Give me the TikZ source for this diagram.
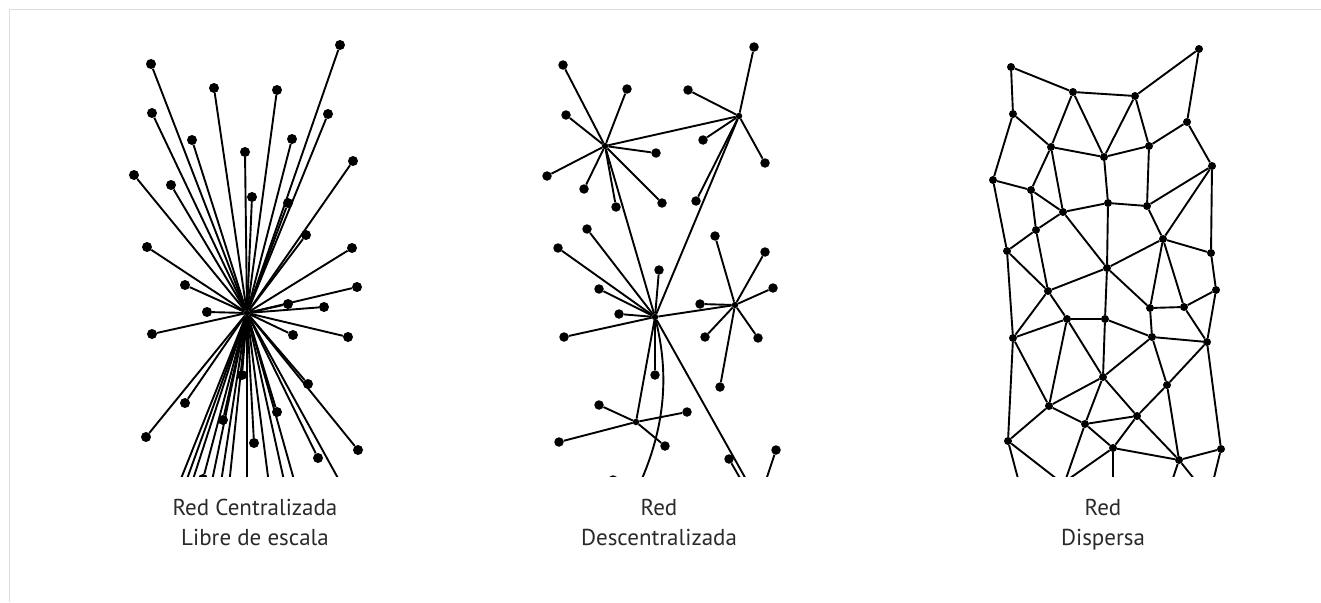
\documentclass[tikz,border=0pt]{standalone}
\usepackage{fontspec}
\setmainfont{PT Sans}
\definecolor{framegray}{HTML}{DDDDDD}
\definecolor{labelgray}{HTML}{2A2A2A}
\tikzset{
  edge/.style={line width=1.9pt, black},
  cdot/.style={circle, fill=black, inner sep=0pt, minimum size=10pt},
  ddot/.style={circle, fill=black, inner sep=0pt, minimum size=9.5pt},
  sdot/.style={circle, fill=black, inner sep=0pt, minimum size=8pt},
  hubdot/.style={circle, fill=black, inner sep=0pt, minimum size=6.5pt},
  lbl/.style={text=labelgray, font=\fontsize{23}{27}\selectfont, anchor=base, inner sep=0pt},
}
\begin{document}
\begin{tikzpicture}[x=1pt, y=-1pt]
\useasboundingbox (0,0) rectangle (1321,602);
\fill[white] (0,0) rectangle (1321,602);
% frame along the top and left
\draw[framegray, line width=1pt] (9,602) -- (9,10) -- (1321,10);

\begin{scope}
\clip (0,0) rectangle (1321,476.5);

% ---------- centralised network ----------
\node[hubdot] (chub) at (247,313) {};
\foreach \n/\x/\y in {
  c1/151/64, c2/340/45, c3/214/88, c4/277/90, c5/152/113, c6/328/114,
  c7/192/140, c8/292/139, c9/245/152, c10/353/161, c11/134/175, c12/171/185,
  c13/252/197, c14/288/203, c15/306/235, c16/147/247, c17/352/248, c18/185/285,
  c19/357/287, c20/288/304, c21/324/307, c22/207/312, c23/152/334, c24/293/335,
  c25/348/337, c26/242/375, c27/308/384, c28/185/403, c29/277/412, c30/223/420,
  c31/146/437, c32/254/443, c33/358/450, c34/318/458, c35/203/479}
  \node[cdot] (\n) at (\x,\y) {};
\foreach \n in {c1,c2,c3,c4,c5,c6,c7,c8,c9,c10,c11,c12,c13,c14,c15,c16,c17,c18,
  c19,c20,c21,c22,c23,c24,c25,c26,c27,c28,c29,c30,c31,c32,c33,c34,c35}
  \draw[edge] (chub) -- (\n);
% links that run on past the lower edge
\foreach \n/\x in {cb1/172.5, cb2/179.4, cb3/186.3, cb4/208, cb5/218.3, cb6/227.5,
  cb7/247, cb8/271, cb9/288.3, cb10/299.7, cb11/350}
  \coordinate (\n) at (\x,500);
\foreach \n in {cb1,cb2,cb3,cb4,cb5,cb6,cb7,cb8,cb9,cb10,cb11}
  \draw[edge] (chub) -- (\n);

% ---------- decentralised network ----------
\foreach \n/\x/\y in {hA/605/146, hB/739/116, hC/655/317, hD/735/305, hE/636/422}
  \node[hubdot] (\n) at (\x,\y) {};
\foreach \n/\x/\y in {
  a1/563/65, a2/627/89, a3/566/115, a4/656/153, a5/547/176, a6/584/189,
  a7/616/207, a8/662/203,
  b1/754/47, b2/688/90, b3/703/140, b4/765/163, b5/696/201,
  k1/587/229, k2/558/248, k3/659/270, k4/599/289, k5/619/314, k6/564/337, k7/655/375,
  d1/715/236, d2/765/252, d3/773/288, d4/700/304, d5/705/337, d6/758/338, d7/720/387,
  e1/599/405, e2/687/412, e3/559/442, e4/665/446,
  f1/729/459, f2/776/450, f3/613/480}
  \node[ddot] (\n) at (\x,\y) {};
\foreach \n in {a1,a2,a3,a4,a5,a6,a7,a8} \draw[edge] (hA) -- (\n);
\foreach \n in {b1,b2,b3,b4,b5} \draw[edge] (hB) -- (\n);
\foreach \n in {k1,k2,k3,k4,k5,k6,k7} \draw[edge] (hC) -- (\n);
\foreach \n in {d1,d2,d3,d4,d5,d6,d7} \draw[edge] (hD) -- (\n);
\foreach \n in {e1,e2,e3,e4} \draw[edge] (hE) -- (\n);
\draw[edge] (hA) -- (hB);
\draw[edge] (hA) -- (hC);
\draw[edge] (hB) -- (hC);
\draw[edge] (hC) -- (hD);
\draw[edge] (hC) -- (hE);
\coordinate (dc1) at (636,492);
\coordinate (dc2) at (752,490);
\coordinate (dc3) at (748,492);
\coordinate (dc4) at (762,492);
\draw[edge] (hC) .. controls (668,370) and (668,425) .. (dc1);
\draw[edge] (hC) -- (dc2);
\draw[edge] (f1) -- (dc3);
\draw[edge] (f2) -- (dc4);

% ---------- distributed network ----------
\foreach \n/\x/\y in {
  m1/1011/67, m2/1073/92, m3/1135/96, m4/1199/49, m5/1013/114, m6/1187/122,
  m7/1051/147, m8/1104/157, m9/1149/146, m10/1212/166, m11/993/180, m12/1031/190,
  m13/1063/212, m14/1108/203, m15/1147/206, m16/1036/230, m17/1163/239,
  m18/1007/251, m19/1211/253,
  p2/1107/268, p5/1048/291, p6/1150/308, p7/1184/307, p8/1216/290, p9/1067/319,
  p10/1105/319, p11/1013/338, p12/1152/337, p13/1207/342, p14/1103/377,
  p15/1167/385, p16/1049/406, p17/1137/416, p18/1085/424, p19/1008/441,
  p20/1113/448, p21/1221/449, p22/1179/460}
  \node[sdot] (\n) at (\x,\y) {};
\foreach \u/\v in {
  m1/m2, m1/m5, m2/m3, m3/m4, m4/m6, m5/m7, m5/m11, m2/m7, m2/m8, m3/m8, m3/m9,
  m7/m8, m8/m9, m9/m6, m6/m10, m7/m12, m7/m13, m8/m14, m9/m15, m11/m12, m11/m18,
  m12/m13, m12/m16, m13/m14, m13/m16, m14/m15, m15/m10, m10/m17, m10/m19,
  m15/m17, m17/m19, m16/m18,
  m13/p2, m14/p2, m17/p2, m16/p5, m18/p5, m18/p11, p2/p5, p2/p6, m17/p6, m17/p7,
  m19/p8, p8/p7, p7/p6, p7/p13, p8/p13, p5/p9, p5/p11, p9/p10, p9/p11, p10/p2,
  p10/p12, p10/p14, p6/p12, p12/p13, p9/p14, p9/p16, p11/p16, p11/p19, p12/p14,
  p12/p15, p13/p15, p13/p21, p14/p16, p14/p18, p14/p17, p15/p17, p15/p22,
  p16/p18, p16/p19, p18/p17, p18/p20, p17/p22, p17/p20, p20/p22, p22/p21}
  \draw[edge] (\u) -- (\v);
% links that run on past the lower edge
\coordinate (s1) at (1021,490);
\coordinate (s2) at (1071,490);
\coordinate (s3) at (1062,490);
\coordinate (s4) at (1053,490);
\coordinate (s5) at (1113,490);
\coordinate (s6) at (1169,490);
\coordinate (s7) at (1203,490);
\coordinate (s8) at (1211,490);
\draw[edge] (p19) -- (s1);
\draw[edge] (p19) -- (s2);
\draw[edge] (p18) -- (s3);
\draw[edge] (p20) -- (s4);
\draw[edge] (p20) -- (s5);
\draw[edge] (p22) -- (s6);
\draw[edge] (p22) -- (s7);
\draw[edge] (p21) -- (s8);
\end{scope}

% ---------- captions ----------
\node[lbl] (t1a) at (255,515) {Red Centralizada};
\node[lbl] (t1b) at (255,545) {Libre de escala};
\node[lbl] (t2a) at (659,515) {Red};
\node[lbl] (t2b) at (659,545) {Descentralizada};
\node[lbl] (t3a) at (1103,515) {Red};
\node[lbl] (t3b) at (1103,545) {Dispersa};
\end{tikzpicture}
\end{document}
